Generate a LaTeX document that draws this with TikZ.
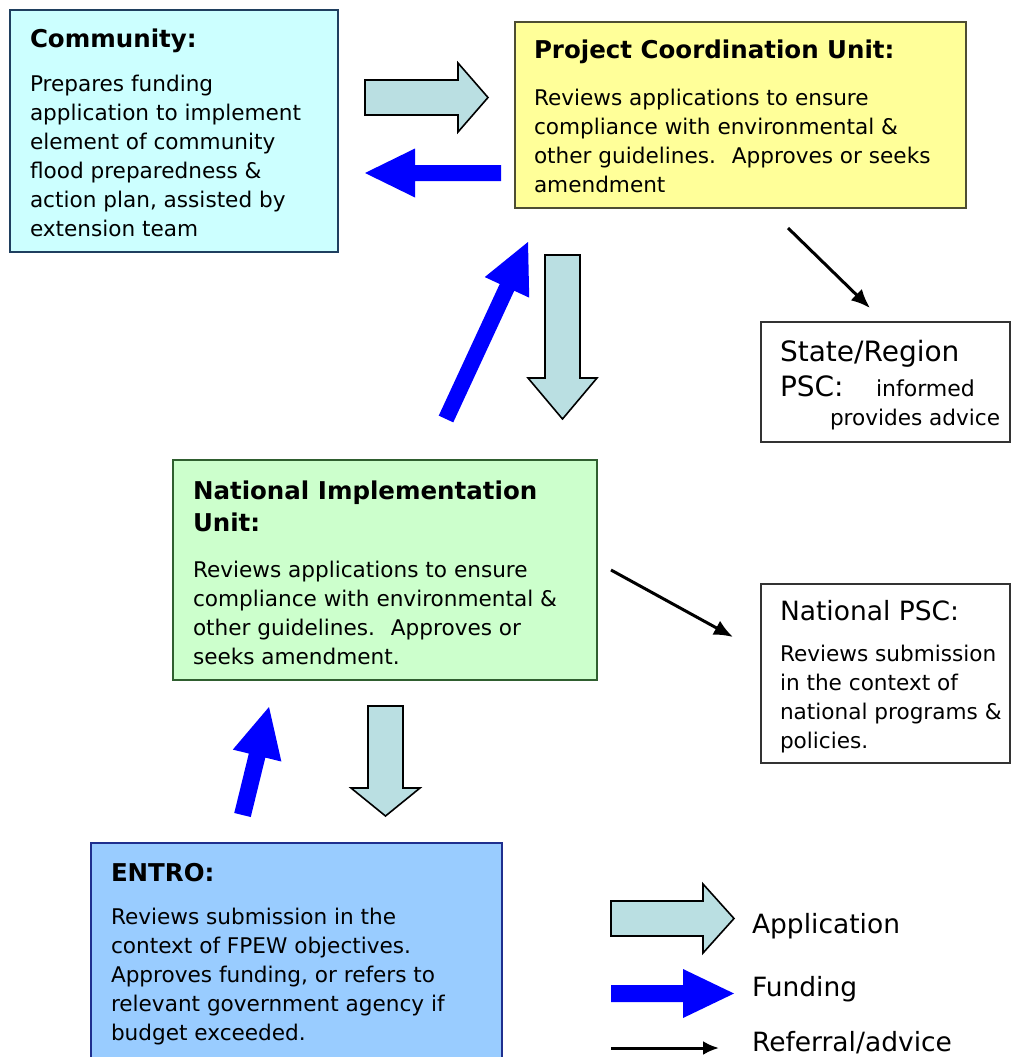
\documentclass[tikz,border=0pt]{standalone}
\usepackage{fontspec}
\setmainfont{DejaVu Sans}
\usetikzlibrary{calc,arrows.meta}

\definecolor{comfill}{HTML}{CCFFFF}
\definecolor{comline}{HTML}{1F3F5F}
\definecolor{pcufill}{HTML}{FFFF99}
\definecolor{pculine}{HTML}{4D4D33}
\definecolor{niufill}{HTML}{CCFFCC}
\definecolor{niuline}{HTML}{2F5F2F}
\definecolor{entrofill}{HTML}{99CCFF}
\definecolor{entroline}{HTML}{1F2F8F}
\definecolor{appfill}{RGB}{186,223,226}
\definecolor{fundblue}{HTML}{0000FF}

\tikzset{
  % block arrow between two points: shaft half width, head half width, head length
  blockarrow/.style n args={3}{to path={
    (\tikztostart) coordinate (ba-s)
    (\tikztotarget) coordinate (ba-t)
    ($(ba-t)!#3!(ba-s)$) coordinate (ba-h)
    ($(ba-s)!#1!90:(ba-t)$) -- ($(ba-h)!#1!90:(ba-t)$) -- ($(ba-h)!#2!90:(ba-t)$)
    -- (ba-t)
    -- ($(ba-h)!#2!-90:(ba-t)$) -- ($(ba-h)!#1!-90:(ba-t)$) -- ($(ba-s)!#1!-90:(ba-t)$) -- cycle
  }},
  application/.style={fill=appfill, draw=black, line width=1.6pt, line join=miter},
  funding/.style={fill=fundblue, draw=none},
  referral/.style={draw=black, line width=3pt, -{Latex[length=19pt,width=16pt]}},
  panel/.style={rectangle, inner sep=0pt, outer sep=0pt, line width=2pt},
  plainpanel/.style={rectangle, inner sep=0pt, outer sep=0pt, line width=1.5pt, draw=black!80, fill=white},
  % multi-line blocks are placed by the baseline of their last line
  textblock/.style={anchor=base west, align=left, inner sep=0pt, outer sep=0pt},
  bodyfont/.style={font=\fontsize{21.6}{29}\selectfont},
  titlefont/.style={font=\bfseries\fontsize{24.5}{32}\selectfont},
  bigfont/.style={font=\fontsize{26.5}{33}\selectfont},
}

\begin{document}
\begin{tikzpicture}[x=1pt, y=-1pt]
\useasboundingbox (0,0) rectangle (1011,1057);

% ---------- boxes ----------
\node[panel, fill=comfill, draw=comline, minimum width=328pt, minimum height=242pt] (com) at (174,131) {};
\node[panel, fill=pcufill, draw=pculine, minimum width=451pt, minimum height=186pt] (pcu) at (740.5,115) {};
\node[plainpanel, minimum width=249pt, minimum height=120pt] (srp) at (885.5,382) {};
\node[panel, fill=niufill, draw=niuline, minimum width=424pt, minimum height=220pt] (niu) at (385,570) {};
\node[plainpanel, minimum width=249pt, minimum height=179pt] (npsc) at (885.5,673.5) {};
\node[panel, fill=entrofill, draw=entroline, minimum width=411pt, minimum height=219pt] (entro) at (296.5,952.5) {};

% ---------- box texts ----------
\node[textblock, titlefont] (comT) at (30,48) {Community:};
\node[textblock, bodyfont] (comB) at (30,236) {Prepares funding\\application to implement\\element of community\\flood preparedness \&\\action plan, assisted by\\extension team};

\node[textblock, titlefont] (pcuT) at (534,59) {Project Coordination Unit:};
\node[textblock, bodyfont] (pcuB) at (534,192) {Reviews applications to ensure\\compliance with environmental \&\\other guidelines.~ Approves or seeks\\amendment};

\node[textblock, font=\fontsize{28}{33}\selectfont] (srpT) at (780,361) {State/Region};
\node[textblock, font=\fontsize{28}{33}\selectfont] (srpP) at (780,396) {PSC:};
\node[textblock, font=\fontsize{22}{29}\selectfont] (srpI) at (876,396) {informed};
\node[textblock, bodyfont] (srpA) at (830,425) {provides advice};

\node[textblock, titlefont] (niuT) at (193,531) {National Implementation\\Unit:};
\node[textblock, bodyfont] (niuB) at (193,664) {Reviews applications to ensure\\compliance with environmental \&\\other guidelines.~ Approves or\\seeks amendment.};

\node[textblock, bigfont] (npscT) at (780,620) {National PSC:};
\node[textblock, bodyfont] (npscB) at (780,748) {Reviews submission\\in the context of\\national programs \&\\policies.};

\node[textblock, titlefont] (entroT) at (111,881) {ENTRO:};
\node[textblock, bodyfont] (entroB) at (111,1040) {Reviews submission in the\\context of FPEW objectives.\\Approves funding, or refers to\\relevant government agency if\\budget exceeded.};

% ---------- connector end points ----------
\coordinate (a1s) at (365,97.5);   \coordinate (a1t) at (488,97.5);
\coordinate (f1s) at (501,173);    \coordinate (f1t) at (365,173);
\coordinate (f2s) at (446,419);    \coordinate (f2t) at (528,242);
\coordinate (a2s) at (562.5,255);  \coordinate (a2t) at (562.5,419);
\coordinate (f3s) at (242.5,815);  \coordinate (f3t) at (269,707);
\coordinate (a3s) at (385.5,706);  \coordinate (a3t) at (385.5,816);
\coordinate (r1s) at (788,228);    \coordinate (r1t) at (870,308);
\coordinate (r2s) at (611,570);    \coordinate (r2t) at (733,637);

% ---------- flows ----------
\draw[application] (a1s) to[blockarrow={17.5pt}{34.5pt}{30pt}] (a1t);
\draw[funding] (f1s) to[blockarrow={8pt}{24.5pt}{50pt}] (f1t);
\draw[funding] (f2s) to[blockarrow={8pt}{24.5pt}{50pt}] (f2t);
\draw[application] (a2s) to[blockarrow={17.5pt}{34.5pt}{41pt}] (a2t);
\draw[funding] (f3s) to[blockarrow={8.5pt}{25pt}{50pt}] (f3t);
\draw[application] (a3s) to[blockarrow={17.5pt}{34.5pt}{28pt}] (a3t);
\draw[referral] (r1s) -- (r1t);
\draw[referral] (r2s) -- (r2t);

% ---------- legend ----------
\coordinate (las) at (611,918.5);  \coordinate (lat) at (734,918.5);
\coordinate (lfs) at (611,993.5);  \coordinate (lft) at (734,993.5);
\coordinate (lrs) at (611,1048);   \coordinate (lrt) at (719,1048);
\draw[application] (las) to[blockarrow={17.5pt}{34.5pt}{31pt}] (lat);
\draw[funding] (lfs) to[blockarrow={8.5pt}{24.5pt}{51pt}] (lft);
\draw[referral, -{Latex[length=16pt,width=14pt]}] (lrs) -- (lrt);
\node[textblock, bigfont] (legA) at (752,933) {Application};
\node[textblock, bigfont] (legF) at (752,996) {Funding};
\node[textblock, bigfont] (legR) at (752,1051) {Referral/advice};
\end{tikzpicture}
\end{document}
